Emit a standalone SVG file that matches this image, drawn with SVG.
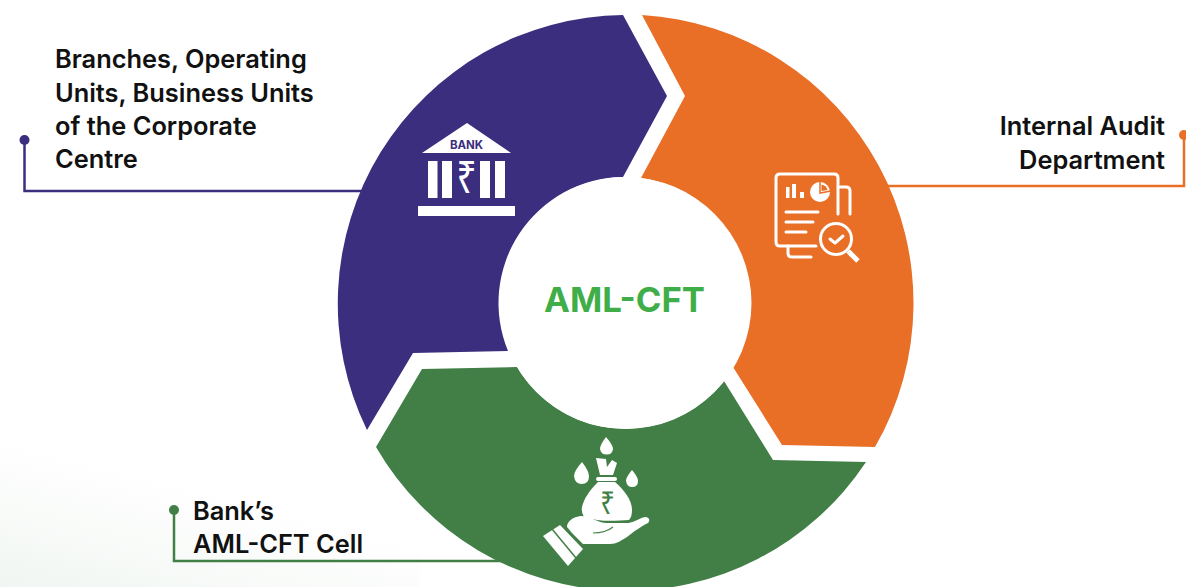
<svg xmlns="http://www.w3.org/2000/svg" width="1186" height="587" viewBox="0 0 1186 587">
<defs>
<linearGradient id="bg" x1="0" y1="1" x2="0.45" y2="0.35"><stop offset="0" stop-color="#f1f6f2"/><stop offset="1" stop-color="#ffffff"/></linearGradient>
</defs>
<style>
text{font-family:"Inter","Noto Sans","Liberation Sans",sans-serif}
.lb{font-size:25.4px;font-weight:600;fill:#111}
.w{fill:#fff}
.ol{fill:none;stroke:#fff;stroke-width:3;stroke-linecap:round;stroke-linejoin:round}
.rs{font-family:"Noto Sans","DejaVu Sans",sans-serif;text-anchor:middle}
</style>
<rect width="1186" height="587" fill="#fff"/>
<rect y="430" width="420" height="157" fill="url(#bg)"/>
<g id="connectors" fill="none" stroke-width="2.500">
<path d="M24.500 140V191H362" stroke="#3b2e7e"/>
<path d="M1184 135V186H885" stroke="#e96f27"/>
<path d="M174 510V561H510" stroke="#417f46"/>
<circle cx="24.500" cy="140" r="5" fill="#3b2e7e" stroke="none"/>
<circle cx="1184" cy="135" r="5" fill="#e96f27" stroke="none"/>
<circle cx="174" cy="510" r="5" fill="#417f46" stroke="none"/>
</g>
<g id="segment-purple">
<path d="M623 15A288.500 288.500 0 0 0 367 430L413 353L508 351A126 126 0 0 1 623 177L667 96Z" fill="#3b2e7e"/>
<g id="bank-icon">
<path class="w" d="M467 123L511 153H422Z"/>
<text x="466.500" y="148.500" font-size="11.500" font-weight="700" text-anchor="middle" fill="#3b2e7e">BANK</text>
<rect class="w" x="428" y="161" width="9.500" height="37"/><rect class="w" x="442" y="161" width="10" height="37"/>
<rect class="w" x="480" y="161" width="10" height="37"/><rect class="w" x="495" y="161" width="10" height="37"/>
<text class="rs" transform="translate(466.500 193) scale(.8 1)" font-size="44" font-weight="400" fill="#fff">₹</text>
<rect class="w" x="418" y="206" width="97" height="10"/>
</g>
</g>
<g id="segment-orange">
<path d="M642 15A288.500 288.500 0 0 1 875 447L782 445L733 367A126 126 0 0 0 641 178L685 96Z" fill="#e96f27"/>
<g id="audit-icon">
<path class="ol" d="M838 214V178Q838 174 834 174H780Q776 174 776 178V242Q776 246 780 246H816"/>
<path class="ol" d="M840 187H846Q850 187 850 191V214"/>
<path class="ol" d="M788 246V253Q788 257 792 257H811"/>
<path class="ol" d="M786 212H818M786 222H813M786 232H806"/>
<rect class="w" x="786" y="187" width="3.500" height="11"/><rect class="w" x="792" y="184" width="4" height="14"/><rect class="w" x="800" y="192" width="4" height="6"/>
<circle class="w" cx="820" cy="192" r="10"/>
<path d="M821.500 184.500A7.500 7.500 0 0 1 827.500 190L821.500 191Z" fill="#e96f27"/>
<path d="M820 181V193L831 191" fill="none" stroke="#e96f27" stroke-width="1.500"/>
<circle class="ol" cx="836" cy="239" r="15.500"/>
<path class="ol" d="M830 239L835 243L843 236"/>
<path d="M848 251L858 261" fill="none" stroke="#fff" stroke-width="5"/>
</g>
</g>
<g id="segment-green">
<path d="M376 447L422 369L517 367A126 126 0 0 0 724 381L773 460L866 462A288.500 288.500 0 0 1 376 447Z" fill="#417f46"/>
<g id="money-icon">
<path class="w" d="M606 437Q600 445 600 449Q601 454.500 606.500 454.500Q612.500 454.500 613 449Q613 445 606 437Z"/>
<path class="w" d="M582 462Q574 471 574 476Q575 484 581.500 484Q589 484 589 476Q589 471 582 462Z"/>
<path class="w" d="M632 470Q626 477 626 481Q627 487 632 487Q638 487 638 481Q638 477 632 470Z"/>
<path class="w" d="M596 458L606 459L607 467L612 460L617 463L613 475H600Z"/>
<rect class="w" x="596" y="477" width="21" height="4" rx="2"/>
<path class="w" d="M598 482H615C624 490 632 500 632 510Q632 517 629 520C615 521 598 522 584 517Q581 512 582 507C584 498 590 490 598 482Z"/>
<text class="rs" transform="translate(607.500 514) scale(.8 1)" font-size="32" fill="#417f46">₹</text>
<path class="w" d="M567 527C567 521 573 517 581 516C590 516 598 523 607 523H628C635 522 641 517 646 517C650 518 650 521 648 523C640 527 632 533 627 537C620 541 617 544 610 544H583L572 533Z"/>
<path d="M593 533C600 533 608 531 613 527" fill="none" stroke="#417f46" stroke-width="1.200"/>
<path class="w" d="M543 536L560 525L583 549L568 566Z"/>
<path d="M552 529L576 558" fill="none" stroke="#417f46" stroke-width="1.500"/>
</g>
</g>
<g id="center">
<circle cx="625.500" cy="303" r="126" fill="#fff"/>
<text x="624.500" y="312" font-size="34.700" font-weight="700" text-anchor="middle" fill="#3fae49">AML-CFT</text>
</g>
<g id="label-branches">
<text class="lb" x="55" y="68">Branches, Operating</text>
<text class="lb" x="55" y="102">Units, Business Units</text>
<text class="lb" x="55" y="135">of the Corporate</text>
<text class="lb" x="55" y="168">Centre</text>
</g>
<g id="label-audit">
<text class="lb" x="1165" y="135" text-anchor="end">Internal Audit</text>
<text class="lb" x="1165" y="169" text-anchor="end">Department</text>
</g>
<g id="label-cell">
<text class="lb" x="193" y="520">Bank’s</text>
<text class="lb" x="193" y="553">AML-CFT Cell</text>
</g>
</svg>
